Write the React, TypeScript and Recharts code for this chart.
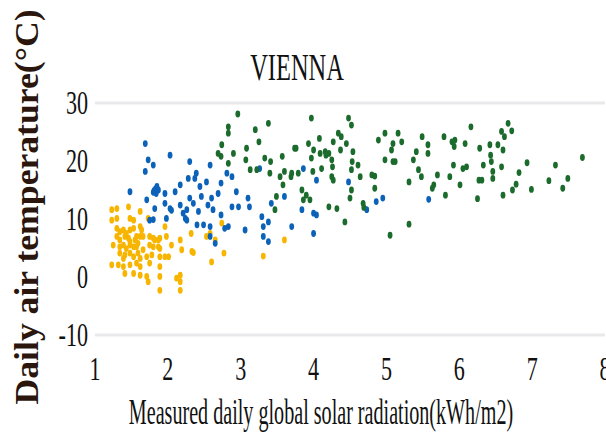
import { ScatterChart, Scatter, XAxis, YAxis, CartesianGrid } from "recharts";

// [radiation kWh/m2, temperature °C], one array per colour group
const lowGroup: [number, number][] = [
  [1.23, 11.6], [1.3, 11.8], [1.46, 12.1], [1.23, 9.8], [1.3, 10.1], [1.48, 10.1], [1.53, 9.8], [1.62, 11.3],
  [1.62, 8.7], [1.64, 8.1], [1.73, 10.1], [1.3, 8.4], [1.34, 7.8], [1.39, 8.1], [1.43, 7.5], [1.48, 8.1],
  [1.53, 8.4], [1.3, 7.0], [1.34, 6.4], [1.41, 7.0], [1.46, 6.7], [1.48, 6.1], [1.55, 6.4], [1.57, 7.0],
  [1.62, 7.0], [1.66, 7.0], [1.75, 7.0], [1.8, 6.7], [1.82, 6.4], [1.87, 6.4], [1.89, 6.7], [1.96, 8.7],
  [1.98, 7.0], [1.25, 5.5], [1.34, 5.2], [1.39, 5.5], [1.43, 4.9], [1.48, 5.5], [1.53, 5.2], [1.57, 5.2],
  [1.59, 5.8], [1.66, 4.7], [1.75, 5.5], [1.8, 5.2], [1.87, 5.2], [1.89, 4.9], [1.34, 4.1], [1.39, 3.2],
  [1.41, 3.8], [1.48, 4.1], [1.53, 3.5], [1.59, 4.1], [1.62, 3.2], [1.71, 3.5], [1.78, 3.8], [1.89, 3.5],
  [1.96, 3.5], [2.01, 3.5], [2.05, 5.5], [2.17, 6.4], [2.19, 4.7], [1.23, 2.1], [1.32, 2.1], [1.39, 1.8],
  [1.48, 2.1], [1.57, 2.4], [1.62, 1.8], [1.75, 2.4], [1.89, 1.8], [1.41, 0.6], [1.53, 0.6], [1.62, 0.3],
  [1.71, 0.1], [1.73, -0.8], [1.89, 0.1], [2.12, -0.2], [2.17, 0.3], [2.17, -0.8], [1.89, -2.3], [2.17, -2.3],
  [2.32, 7.5], [2.53, 7.0], [2.58, 7.5], [2.65, 6.4], [2.74, 9.3], [2.33, 4.4], [2.35, 4.2], [2.6, 2.6],
  [2.77, 4.1], [3.31, 3.6], [3.6, 6.4],
];

const midGroup: [number, number][] = [
  [1.69, 23.0], [2.03, 21.0], [1.73, 20.2], [1.8, 19.3], [1.69, 18.2], [1.48, 14.7], [1.8, 14.6], [1.83, 15.2],
  [1.85, 15.6], [1.81, 14.9], [1.84, 14.4], [1.87, 15.0], [1.71, 13.3], [1.96, 14.4], [2.1, 14.7], [2.17, 15.9],
  [1.82, 11.8], [1.96, 12.7], [2.03, 11.8], [1.75, 9.8], [1.8, 9.9], [1.98, 10.1], [2.05, 11.5], [2.17, 12.4],
  [2.21, 11.0], [2.24, 10.1], [2.3, 19.9], [2.28, 17.0], [2.37, 17.0], [2.39, 17.9], [2.58, 19.3], [2.44, 15.6],
  [2.53, 16.4], [2.3, 13.6], [2.46, 13.9], [2.6, 13.6], [2.69, 14.4], [2.73, 16.2], [2.81, 17.9], [2.88, 17.3],
  [2.94, 14.7], [2.26, 11.6], [2.35, 12.7], [2.42, 11.3], [2.55, 12.4], [2.62, 11.6], [2.73, 10.7], [2.88, 12.1],
  [2.97, 12.1], [3.1, 13.6], [3.12, 12.1], [3.26, 18.7], [3.29, 10.4], [3.31, 8.7], [3.38, 9.5], [3.42, 12.7],
  [3.6, 13.9], [2.26, 9.8], [2.4, 9.0], [2.49, 9.0], [2.58, 8.7], [2.58, 7.0], [2.65, 5.8], [2.78, 8.4],
  [2.83, 8.7], [3.06, 8.1], [3.31, 7.0], [3.38, 6.1], [3.7, 8.7], [3.86, 18.7], [4.04, 16.7], [4.48, 16.4],
  [3.84, 11.6], [4.0, 11.0], [4.04, 10.7], [4.73, 11.6], [4.86, 13.0], [4.95, 13.6], [4.0, 7.5], [5.58, 13.4],
];

const highGroup: [number, number][] = [
  [2.96, 28.1], [2.83, 25.9], [2.83, 24.8], [2.74, 22.8], [2.69, 21.3], [2.73, 20.8], [2.9, 21.3], [2.83, 19.6],
  [3.2, 25.4], [3.25, 23.3], [3.38, 26.5], [3.08, 22.2], [3.07, 20.2], [3.13, 18.5], [3.22, 18.5], [3.33, 20.5],
  [3.41, 19.9], [3.4, 17.9], [3.57, 20.8], [3.6, 18.2], [3.54, 17.3], [3.58, 15.9], [3.69, 17.3], [3.49, 13.9],
  [3.47, 11.6], [3.74, 22.2], [3.97, 27.4], [3.76, 22.2], [3.93, 23.0], [4.0, 21.9], [3.97, 20.5], [4.08, 23.9],
  [4.09, 21.3], [4.16, 21.6], [4.17, 21.0], [4.21, 21.3], [4.27, 23.3], [4.34, 24.8], [4.38, 24.2], [4.37, 21.9],
  [4.45, 23.0], [4.48, 27.4], [4.52, 26.2], [4.54, 21.6], [4.25, 20.2], [4.26, 19.0], [4.53, 19.9], [4.61, 19.3],
  [4.52, 18.5], [3.7, 17.9], [3.79, 17.9], [3.99, 18.2], [4.11, 18.7], [4.25, 17.3], [4.27, 16.7], [4.64, 17.3],
  [4.8, 17.6], [4.84, 17.4], [4.52, 15.0], [4.5, 13.6], [3.84, 15.0], [3.9, 14.1], [3.95, 13.3], [3.86, 13.3],
  [4.21, 12.1], [4.32, 11.8], [4.68, 12.7], [4.69, 12.0], [4.84, 15.3], [4.43, 9.5], [4.89, 23.6], [4.98, 24.8],
  [5.09, 23.0], [5.07, 21.9], [4.98, 20.2], [5.09, 19.9], [5.05, 7.2], [5.16, 24.8], [5.21, 23.3], [5.12, 19.9],
  [5.49, 24.2], [5.57, 22.8], [5.57, 21.3], [5.41, 21.6], [5.37, 20.2], [5.44, 18.5], [5.48, 17.3], [5.31, 16.4],
  [5.65, 15.9], [5.63, 15.3], [5.7, 17.6], [5.79, 24.2], [5.81, 14.1], [5.87, 17.3], [5.92, 19.3], [5.9, 23.3],
  [5.94, 23.6], [5.93, 22.5], [6.08, 23.0], [6.01, 15.9], [6.05, 18.7], [6.1, 19.0], [6.16, 25.9], [6.28, 22.2],
  [6.27, 16.7], [6.31, 16.7], [6.33, 19.3], [6.25, 13.5], [6.42, 22.8], [6.43, 21.0], [6.44, 19.9], [6.46, 18.2],
  [6.46, 17.0], [6.53, 22.8], [6.58, 25.1], [6.6, 21.9], [6.58, 19.0], [6.6, 14.1], [5.31, 9.1], [6.67, 26.5],
  [6.72, 25.2], [6.62, 24.2], [6.73, 15.0], [6.78, 16.0], [6.82, 18.0], [6.93, 19.7], [6.99, 15.1], [7.23, 16.6],
  [7.32, 19.3], [7.42, 15.3], [7.49, 17.0], [7.69, 20.6],
];

const xTicks = [1, 2, 3, 4, 5, 6, 7, 8];
const yTicks = [-10, 0, 10, 20, 30];
const gridTicks = [-10, -2, 6, 14, 22, 30];

const toPoints = (rows: [number, number][]) => rows.map(([x, y]) => ({ x, y }));

const SERIF = "'Liberation Serif', 'Times New Roman', serif";

const Dot = (props: any) => {
  const { cx, cy, fill } = props;
  return <ellipse cx={cx} cy={cy} rx={2.4} ry={3.4} fill={fill} />;
};

const XTick = (props: any) => {
  const { x, payload } = props;
  return (
    <text transform={`translate(${x},380) scale(0.65,1)`} textAnchor="middle" fontFamily={SERIF} fontSize={34} fill="#111">
      {payload.value}
    </text>
  );
};

const YTick = (props: any) => {
  const { y, payload } = props;
  return (
    <text transform={`translate(88,${y + 11}) scale(0.65,1)`} textAnchor="end" fontFamily={SERIF} fontSize={34} fill="#111">
      {payload.value}
    </text>
  );
};

export default function App() {
  return (
    <div style={{ position: "absolute", left: 0, top: 0, width: 606, height: 435, background: "#fff" }}>
      <ScatterChart width={606} height={435} margin={{ top: 103, right: 1, bottom: 0, left: 0 }}>
        <CartesianGrid yAxisId="grid" vertical={false} stroke="#e9e9ec" strokeWidth={3} />
        <XAxis
          type="number"
          dataKey="x"
          domain={[1, 8]}
          ticks={xTicks}
          height={100}
          axisLine={false}
          tickLine={false}
          tick={<XTick />}
          interval={0}
        />
        <YAxis
          type="number"
          dataKey="y"
          domain={[-10, 30]}
          ticks={yTicks}
          width={95}
          axisLine={false}
          tickLine={false}
          tick={<YTick />}
          interval={0}
        />
        <YAxis yAxisId="grid" type="number" domain={[-10, 30]} ticks={gridTicks} hide />
        <Scatter data={toPoints(lowGroup)} fill="#f7b500" shape={<Dot />} isAnimationActive={false} />
        <Scatter data={toPoints(midGroup)} fill="#0b62b8" shape={<Dot />} isAnimationActive={false} />
        <Scatter data={toPoints(highGroup)} fill="#1b6b2d" shape={<Dot />} isAnimationActive={false} />
      </ScatterChart>
      <svg width={606} height={435} style={{ position: "absolute", left: 0, top: 0, pointerEvents: "none" }}>
        <text transform="translate(297,80) scale(0.66,1)" textAnchor="middle" fontFamily={SERIF} fontSize={37} fill="#111">
          VIENNA
        </text>
        <text transform="translate(321,424) scale(0.575,1)" textAnchor="middle" fontFamily={SERIF} fontSize={35} fill="#111">
          Measured daily global solar radiation(kWh/m2)
        </text>
        <text
          transform="translate(38,207) rotate(-90)"
          textAnchor="middle"
          fontFamily={SERIF}
          fontSize={33}
          fontWeight="bold"
          fill="#2a160c"
          textLength={395}
          lengthAdjust="spacingAndGlyphs"
        >
          Daily air temperature(°C)
        </text>
      </svg>
    </div>
  );
}
